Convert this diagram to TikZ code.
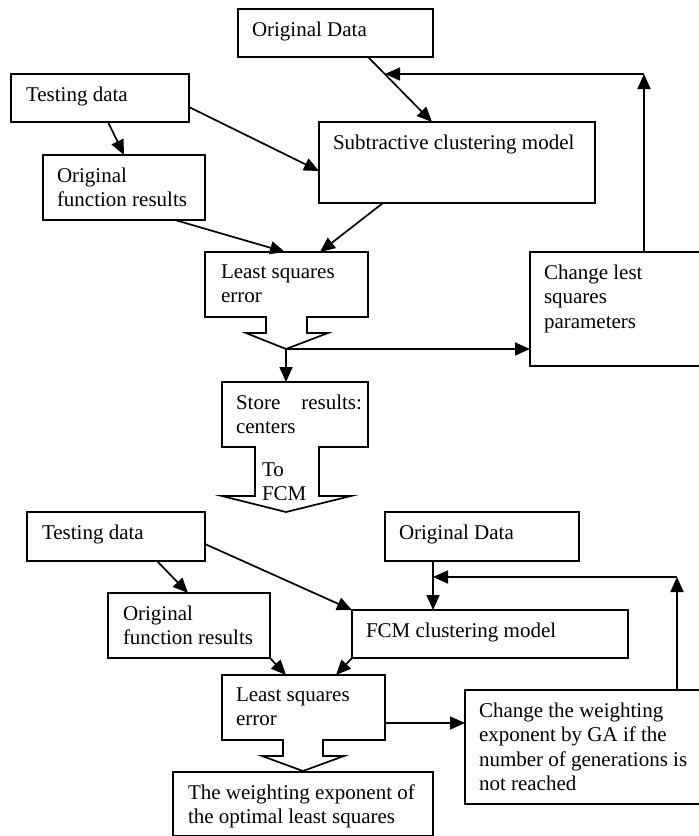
\documentclass[tikz,border=0pt]{standalone}
\usepackage{fontspec}
\setmainfont{Liberation Serif}
\usetikzlibrary{arrows.meta,calc}
\begin{document}
\begin{tikzpicture}[x=1pt,y=1pt,
  boxst/.style={draw, line width=1.8pt, inner sep=0pt, outer sep=0pt, anchor=north west},
  txt/.style={anchor=north west, inner sep=0pt, outer sep=0pt, align=left, font=\fontsize{21}{24.5}\selectfont},
  arr/.style={line width=1.7pt, -{Triangle[length=15pt,width=13pt]}},
  ln/.style={line width=1.7pt},
  erase/.style={white, line width=3pt}]
\useasboundingbox (0,0) rectangle (699,-836);
% ---------- upper part ----------
\node[boxst, minimum width=195pt, minimum height=48pt] (od1) at (238,-9) {};
\node[txt] (od1t) at ($(od1.north west)+(14,-10)$) {\strut Original Data};
\node[boxst, minimum width=178pt, minimum height=48pt] (td1) at (11,-74) {};
\node[txt] (td1t) at ($(td1.north west)+(15,-10)$) {\strut Testing data};
\node[boxst, minimum width=162pt, minimum height=65pt] (ofr1) at (43,-155) {};
\node[txt] (ofr1t) at ($(ofr1.north west)+(14,-10)$) {\strut Original\\function results};
\node[boxst, minimum width=276pt, minimum height=81pt] (sub) at (319,-122) {};
\node[txt] (subt) at ($(sub.north west)+(14,-10)$) {\strut Subtractive clustering model};
\node[boxst, minimum width=163pt, minimum height=65pt] (lse1) at (205,-252) {};
\node[txt] (lse1t) at ($(lse1.north west)+(16,-9)$) {\strut Least squares\\error};
\node[boxst, minimum width=180pt, minimum height=114pt] (chg1) at (530,-252) {};
\node[txt] (chg1t) at ($(chg1.north west)+(14,-10)$) {\strut Change lest\\squares\\parameters};
\node[boxst, minimum width=146pt, minimum height=65pt] (sto) at (222,-382) {};
\node[txt] (stot) at ($(sto.north west)+(14,-10)$) {\strut\makebox[126pt][s]{Store results:}\\centers};
% block arrow below least squares error (upper)
\draw[erase] (267,-317) -- (306,-317);
\draw[ln] (266,-317) -- (266,-333) -- (246,-333) -- (286,-349) -- (328,-333) -- (307,-333) -- (307,-317);
\coordinate (tip1) at (286,-349);
% block arrow "To FCM"
\draw[erase] (256,-447) -- (318,-447);
\draw[ln] (255,-447) -- (255,-496) -- (222,-496) -- (286,-512) -- (351,-496) -- (319,-496) -- (319,-447);
\node[txt] (tofcm) at (262,-459) {\strut To\\FCM};
% connectors upper
\draw[arr] ($(od1.south west)+(130,0)$) -- ($(sub.north west)+(113,0)$);
\draw[arr] ($(td1.south west)+(97,0)$) -- ($(ofr1.north west)+(81,0)$);
\draw[arr] ($(td1.north east)+(0,-33)$) -- ($(sub.north west)+(0,-49)$);
\draw[arr] ($(ofr1.south west)+(132,0)$) -- ($(lse1.north west)+(80,0)$);
\draw[arr] ($(sub.south west)+(64,0)$) -- ($(lse1.north west)+(115,0)$);
\coordinate (fb1) at (644,-74);
\coordinate (fbj1) at (385,-74);
\draw[arr] ($(chg1.north west)+(114,0)$) -- (fb1);
\draw[arr] (fb1) -- (fbj1);
\draw[arr] (tip1) -- ($(sto.north west)+(64,0)$);
\draw[arr] (tip1) -- (tip1 -| chg1.west);
% ---------- lower part ----------
\node[boxst, minimum width=178pt, minimum height=49pt] (td2) at (27,-512) {};
\node[txt] (td2t) at ($(td2.north west)+(15,-10)$) {\strut Testing data};
\node[boxst, minimum width=194pt, minimum height=49pt] (od2) at (385,-512) {};
\node[txt] (od2t) at ($(od2.north west)+(14,-10)$) {\strut Original Data};
\node[boxst, minimum width=162pt, minimum height=65pt] (ofr2) at (108,-593) {};
\node[txt] (ofr2t) at ($(ofr2.north west)+(15,-10)$) {\strut Original\\function results};
\node[boxst, minimum width=276pt, minimum height=48pt] (fcm) at (352,-610) {};
\node[txt] (fcmt) at ($(fcm.north west)+(14,-10)$) {\strut FCM clustering model};
\node[boxst, minimum width=163pt, minimum height=65pt] (lse2) at (222,-675) {};
\node[txt] (lse2t) at ($(lse2.north west)+(14,-9)$) {\strut Least squares\\error};
\node[boxst, minimum width=250pt, minimum height=114pt] (chg2) at (465,-690) {};
\node[txt] (chg2t) at ($(chg2.north west)+(14,-10)$) {\strut Change the weighting\\exponent by GA if the\\number of generations is\\not reached};
\node[boxst, minimum width=260pt, minimum height=64pt] (fin) at (173,-772) {};
\node[txt] (fint) at ($(fin.north west)+(15,-10)$) {\strut The weighting exponent of\\the optimal least squares};
% block arrow below least squares error (lower)
\draw[erase] (284,-740) -- (322,-740);
\draw[ln] (283,-740) -- (283,-756) -- (262,-756) -- (303,-771) -- (344,-756) -- (323,-756) -- (323,-740);
% connectors lower
\draw[arr] ($(td2.south west)+(130,0)$) -- ($(ofr2.north west)+(80,0)$);
\draw[arr] ($(td2.north east)+(0,-32)$) -- (fcm.north west);
\draw[arr] ($(od2.south west)+(48,0)$) -- ($(fcm.north west)+(81,0)$);
\coordinate (fb2) at (677,-577);
\coordinate (fbj2) at (433,-577);
\draw[arr] ($(chg2.north west)+(212,0)$) -- (fb2);
\draw[arr] (fb2) -- (fbj2);
\draw[arr] (ofr2.south east) -- ($(lse2.north west)+(64,0)$);
\draw[arr] (fcm.south west) -- ($(lse2.north west)+(114,0)$);
\coordinate (lse2r) at ($(lse2.north east)+(0,-48)$);
\draw[arr] (lse2r) -- (lse2r -| chg2.west);
\end{tikzpicture}
\end{document}
